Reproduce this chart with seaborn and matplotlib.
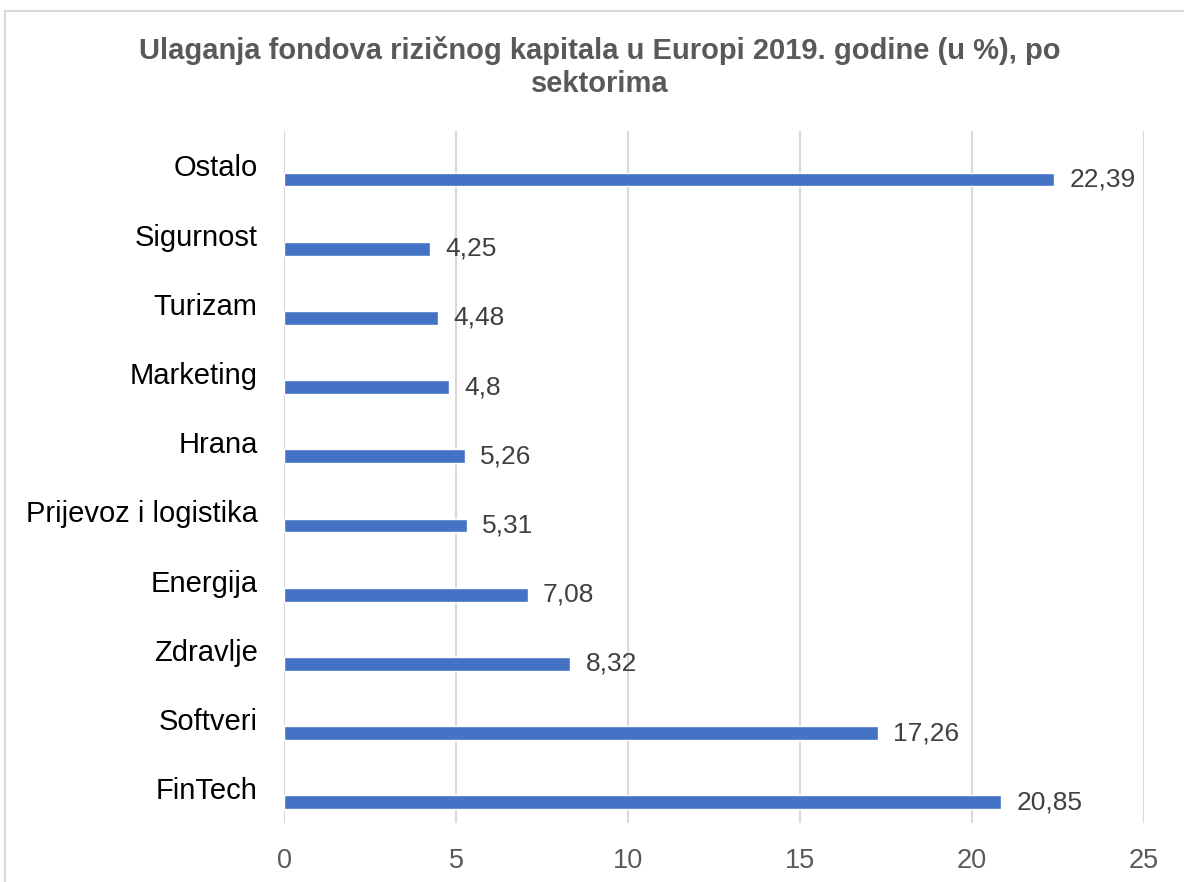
import matplotlib
matplotlib.use("Agg")
import matplotlib.pyplot as plt
import matplotlib.transforms as mtransforms
from matplotlib.patches import Rectangle
import pandas as pd
import seaborn as sns

sektori = ["Ostalo", "Sigurnost", "Turizam", "Marketing", "Hrana",
           "Prijevoz i logistika", "Energija", "Zdravlje", "Softveri", "FinTech"]
udjeli = [22.39, 4.25, 4.48, 4.8, 5.26, 5.31, 7.08, 8.32, 17.26, 20.85]
x_ticks = [0, 5, 10, 15, 20, 25]

naslov = "Ulaganja fondova rizičnog kapitala u Europi 2019. godine (u %), po\nsektorima"

df = pd.DataFrame({"sektor": sektori, "udio": udjeli})

sns.set_theme(style="white")
plt.rcParams["font.family"] = ["Liberation Sans", "DejaVu Sans"]

fig = plt.figure(figsize=(11.84, 8.82), dpi=100)
ax = fig.add_axes([284 / 1184, 1 - 823 / 882, 860 / 1184, 692 / 882])

sns.barplot(data=df, x="udio", y="sektor", order=sektori, color="#4472C4",
            width=0.2, saturation=1, ax=ax)

ax.set_xlim(0, 25)
ax.set_ylim(9.3, -0.7)
ax.set_xticks(x_ticks)
ax.set_xticklabels([str(t) for t in x_ticks])
ax.grid(axis="x", color="#D9D9D9", linewidth=1.5)
ax.set_axisbelow(True)
for s in ax.spines.values():
    s.set_visible(False)
ax.set_xlabel("")
ax.set_ylabel("")
ax.tick_params(axis="x", length=0, pad=18, labelsize=19.5, labelcolor="#595959")
ax.tick_params(axis="y", length=0, pad=19, labelsize=21, labelcolor="black")

# category labels sit a bit above the bars (as in the original Excel chart)
offset = mtransforms.ScaledTranslation(0, 14 / 100, fig.dpi_scale_trans)
for lbl in ax.get_yticklabels():
    lbl.set_transform(lbl.get_transform() + offset)

ax.bar_label(ax.containers[0], labels=[f"{v:g}".replace(".", ",") for v in udjeli],
             padding=11, fontsize=19, color="#404040")
down = mtransforms.ScaledTranslation(0, -4 / 100, fig.dpi_scale_trans)
for t in ax.texts:
    t.set_transform(t.get_transform() + down)

fig.text(600 / 1184, 1 - 67 / 882, naslov, ha="center", va="center",
         fontsize=21, fontweight="bold", color="#595959", linespacing=1.2)

fig.patches.append(Rectangle((5 / 1184, -0.1), 1.2, 1 - 11 / 882 + 0.1,
                             transform=fig.transFigure, fill=False,
                             edgecolor="#D9D9D9", linewidth=1.5))

fig.savefig("out.png", dpi=100)
